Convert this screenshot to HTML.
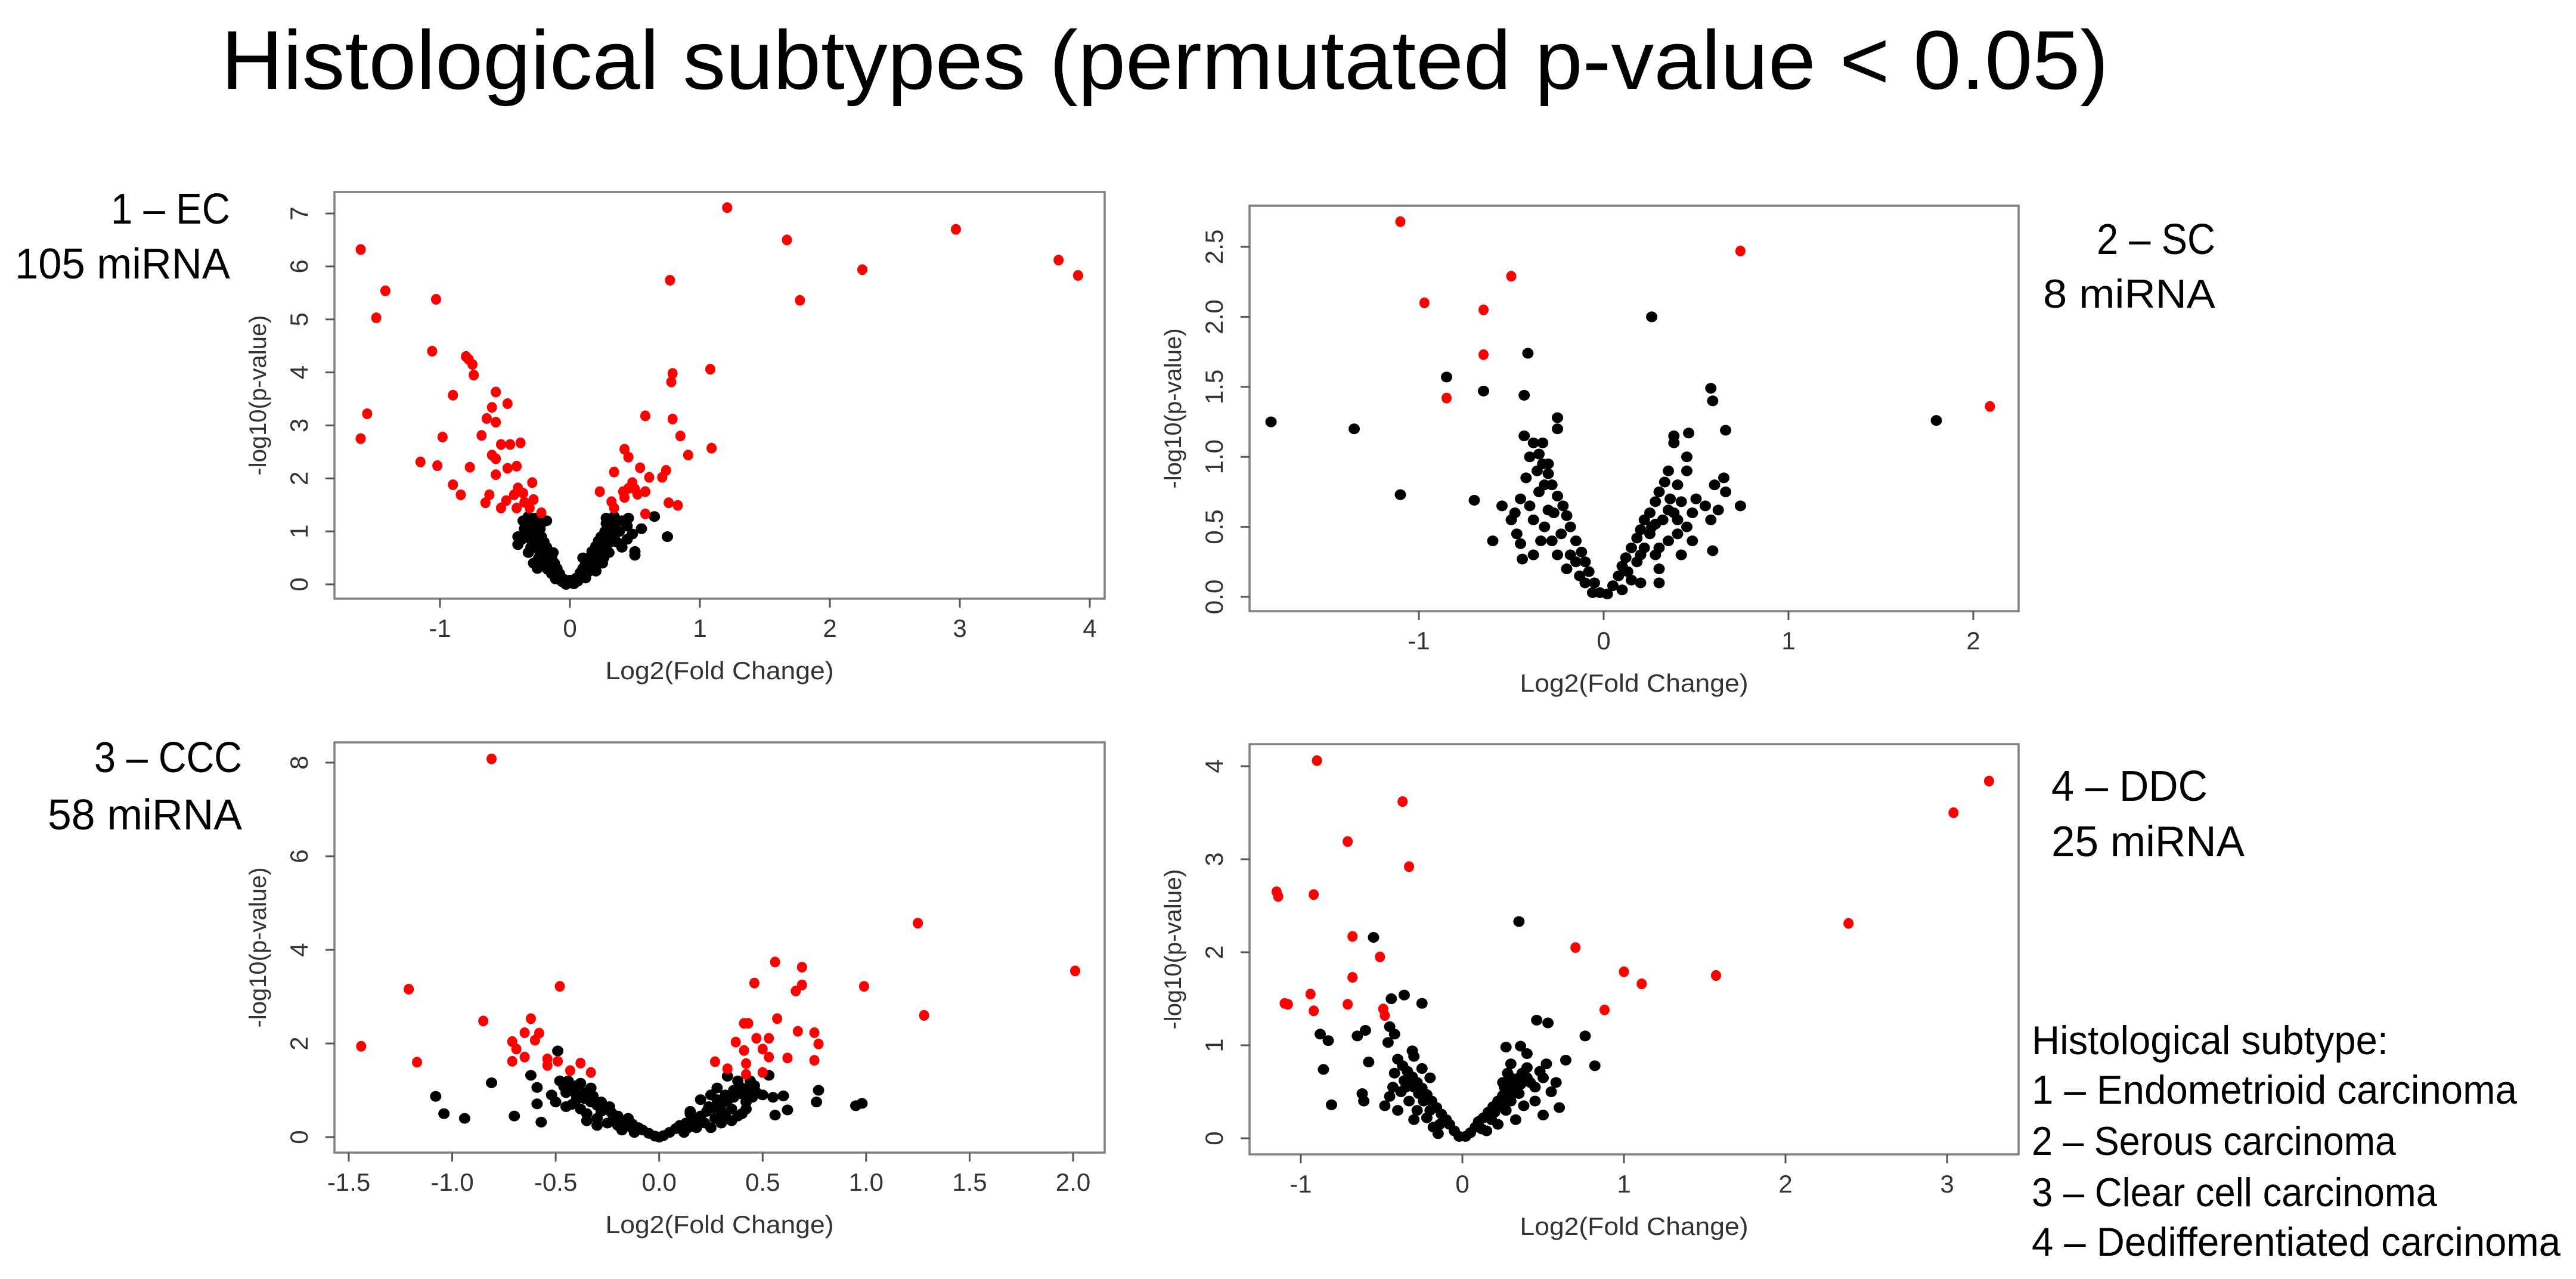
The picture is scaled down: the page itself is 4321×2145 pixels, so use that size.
<!DOCTYPE html>
<html><head><meta charset="utf-8"><title>Histological subtypes volcano plots</title>
<style>html,body{margin:0;padding:0;background:#fff;}svg{display:block;}</style></head>
<body>
<svg id="fig" xmlns="http://www.w3.org/2000/svg" width="4321" height="2145" viewBox="0 0 4321 2145" font-family="'Liberation Sans', sans-serif">
<rect width="4321" height="2145" fill="#fff"/>
<text x="371" y="149" font-size="140" textLength="3166" lengthAdjust="spacingAndGlyphs" fill="#000">Histological subtypes (permutated p-value &lt; 0.05)</text>
<text x="386" y="375" font-size="72" text-anchor="end" textLength="200" lengthAdjust="spacingAndGlyphs">1 – EC</text>
<text x="386" y="467" font-size="72" text-anchor="end" textLength="361" lengthAdjust="spacingAndGlyphs">105 miRNA</text>
<text x="3716" y="426" font-size="72" text-anchor="end" textLength="199" lengthAdjust="spacingAndGlyphs">2 – SC</text>
<text x="3716" y="516" font-size="68" text-anchor="end" textLength="289" lengthAdjust="spacingAndGlyphs">8 miRNA</text>
<text x="406" y="1295" font-size="72" text-anchor="end" textLength="248" lengthAdjust="spacingAndGlyphs">3 – CCC</text>
<text x="406" y="1391" font-size="72" text-anchor="end" textLength="326" lengthAdjust="spacingAndGlyphs">58 miRNA</text>
<text x="3441" y="1343" font-size="72" textLength="262" lengthAdjust="spacingAndGlyphs">4 – DDC</text>
<text x="3441" y="1436" font-size="72" textLength="324" lengthAdjust="spacingAndGlyphs">25 miRNA</text>
<g font-size="68">
<text x="3408" y="1768" textLength="598" lengthAdjust="spacingAndGlyphs">Histological subtype:</text>
<text x="3408" y="1851" textLength="814" lengthAdjust="spacingAndGlyphs">1 – Endometrioid carcinoma</text>
<text x="3408" y="1937" textLength="611" lengthAdjust="spacingAndGlyphs">2 – Serous carcinoma</text>
<text x="3408" y="2023" textLength="680" lengthAdjust="spacingAndGlyphs">3 – Clear cell carcinoma</text>
<text x="3408" y="2106" textLength="887" lengthAdjust="spacingAndGlyphs">4 – Dedifferentiated carcinoma</text>
</g>
</svg>
<script>
// ---- data ----
const ecXTicks = [-1,0,1,2,3,4];
const ecYTicks = [0,1,2,3,4,5,6,7];
const ecRed = [[-1.61,6.32],[1.21,7.11],[1.67,6.5],[2.97,6.7],[2.25,5.94],[3.76,6.12],[3.91,5.83],[0.77,5.74],[1.77,5.36],[-1.42,5.54],[-1.49,5.03],[-1.03,5.38],[-1.06,4.4],[-1.56,3.22],[-1.61,2.75],[-0.8,4.3],[-0.78,4.25],[-0.75,4.15],[-0.74,3.95],[1.08,4.06],[0.79,3.98],[0.78,3.82],[-0.9,3.57],[-0.57,3.63],[-0.48,3.41],[-0.6,3.34],[-0.64,3.13],[-0.57,3.06],[0.58,3.18],[0.79,3.12],[-0.98,2.78],[-0.68,2.81],[0.85,2.8],[-0.53,2.64],[-0.46,2.64],[-0.38,2.67],[1.09,2.57],[0.91,2.44],[-0.6,2.44],[-0.57,2.37],[0.42,2.55],[0.45,2.4],[-1.15,2.31],[-1.02,2.24],[-0.77,2.21],[-0.48,2.19],[-0.41,2.23],[0.54,2.2],[0.74,2.15],[0.34,2.12],[-0.57,2.07],[0.61,2.02],[0.71,2.02],[-0.9,1.88],[-0.84,1.69],[-0.29,1.92],[0.48,1.92],[0.45,1.81],[-0.4,1.82],[-0.36,1.72],[-0.43,1.69],[-0.62,1.69],[-0.65,1.54],[-0.53,1.44],[0.23,1.75],[0.41,1.75],[0.58,1.75],[0.42,1.64],[-0.49,1.58],[-0.41,1.44],[-0.31,1.44],[-0.22,1.35],[0.32,1.56],[0.34,1.44],[0.76,1.54],[0.83,1.49],[0.58,1.33],[-0.28,1.6],[-0.35,1.55],[0.5,1.8],[0.52,1.7]];
const ecBlack = [[-0.02,0.02],[0.02,0.03],[-0.05,0.1],[0.05,0.12],[-0.08,0.2],[0.08,0.22],[-0.1,0.3],[0.1,0.3],[-0.12,0.4],[0.12,0.38],[-0.14,0.5],[0.15,0.5],[-0.16,0.6],[0.17,0.62],[-0.18,0.7],[0.2,0.72],[-0.2,0.8],[0.22,0.82],[-0.22,0.9],[0.24,0.9],[-0.25,1.0],[0.27,1.0],[-0.28,1.1],[0.3,1.1],[-0.3,1.2],[0.32,1.2],[-0.32,1.28],[0.34,1.28],[-0.2,0.55],[-0.24,0.65],[-0.27,0.75],[-0.3,0.85],[-0.33,0.95],[-0.35,1.05],[0.18,0.45],[0.22,0.55],[0.26,0.65],[0.3,0.78],[0.34,0.9],[0.38,1.0],[-0.15,0.35],[0.13,0.3],[-0.06,0.05],[0.06,0.06],[-0.1,0.15],[0.1,0.18],[-0.4,0.9],[-0.4,0.75],[-0.37,0.85],[0.5,0.62],[0.5,0.55],[0.45,1.25],[0.55,1.05],[0.65,1.28],[0.75,0.9],[-0.28,0.4],[-0.25,0.3],[0.2,0.25],[0.25,0.4],[0.4,0.7],[0.44,0.85],[-0.18,1.2],[-0.22,1.15],[0.28,1.25],[0.1,0.5],[-0.13,0.6],[0,0.08],[-0.03,0.0],[0.03,0.01],[-0.27,1.25],[-0.25,1.15],[-0.23,1.05],[-0.26,0.9],[-0.28,0.8],[-0.3,0.7],[-0.32,0.6],[-0.24,0.5],[-0.2,0.4],[-0.17,0.28],[-0.14,0.2],[-0.11,0.1],[0.12,0.12],[0.15,0.25],[0.17,0.35],[0.2,0.6],[0.24,0.7],[0.27,0.85],[0.28,1.15],[0.32,1.0],[0.34,1.1],[0.36,0.8],[0.3,0.6],[0.26,0.5],[0.4,1.2],[0.44,1.1],[0.48,0.95],[-0.36,1.2],[-0.34,1.15]];

const scXTicks = [-1,0,1,2];
const scYTicks = [0,0.5,1,1.5,2,2.5];
const scRed = [[-1.1,2.68],[0.74,2.47],[-0.5,2.29],[-0.97,2.1],[-0.65,2.05],[-0.65,1.73],[-0.85,1.42],[2.09,1.36]];
const scBlack = [[0.26,2.0],[-0.41,1.74],[-0.85,1.57],[-0.65,1.47],[-0.43,1.44],[0.58,1.49],[0.59,1.4],[-1.35,1.2],[-1.1,0.73],[1.8,1.26],[-1.8,1.25],[0.66,1.19],[0.74,0.65],[-0.7,0.69],[-0.6,0.4],[-0.44,0.27],[0.59,0.33],[-0.02,0.03],[0.02,0.02],[-0.05,0.1],[0.05,0.08],[-0.08,0.18],[0.08,0.15],[-0.1,0.25],[0.1,0.22],[-0.12,0.32],[0.12,0.28],[-0.15,0.4],[0.15,0.35],[-0.18,0.5],[0.18,0.42],[-0.2,0.58],[0.2,0.48],[-0.22,0.65],[0.22,0.55],[-0.25,0.72],[0.25,0.6],[-0.28,0.8],[0.28,0.68],[-0.3,0.88],[0.3,0.75],[-0.33,0.95],[0.33,0.82],[-0.35,1.02],[-0.38,1.1],[-0.4,1.0],[-0.42,0.85],[-0.45,0.7],[-0.48,0.6],[-0.5,0.55],[-0.55,0.65],[-0.47,0.45],[-0.38,0.55],[-0.32,0.5],[-0.28,0.4],[-0.25,0.3],[-0.2,0.2],[-0.3,0.62],[-0.35,0.75],[-0.43,1.15],[-0.33,1.1],[-0.25,1.28],[-0.25,1.2],[-0.38,0.3],[-0.45,0.38],[0.35,0.9],[0.38,1.1],[0.38,1.15],[0.45,1.0],[0.45,0.9],[0.46,1.17],[0.4,0.45],[0.45,0.5],[0.48,0.4],[0.42,0.3],[0.3,0.2],[0.35,0.4],[0.5,0.7],[0.55,0.65],[0.58,0.55],[0.6,0.8],[0.62,0.62],[0.66,0.75],[0.65,0.85],[0.2,0.3],[0.25,0.45],[0.28,0.52],[0.3,0.35],[0.15,0.12],[0.35,0.62],[-0.15,0.25],[-0.1,0.1],[0.4,0.55],[0.48,0.6],[0.2,0.1],[0.3,0.1],[-0.3,0.95],[-0.32,0.8],[-0.36,0.9],[-0.27,0.6],[-0.23,0.45],[-0.18,0.3],[-0.13,0.15],[-0.4,0.65],[-0.34,0.4],[0.13,0.18],[0.18,0.25],[0.22,0.35],[0.26,0.5],[0.32,0.55],[0.36,0.7],[0.4,0.8],[0.28,0.3],[0.38,0.6],[0.42,0.68],[0.1,0.05],[-0.06,0.03]];

const cccXTicks = [-1.5,-1.0,-0.5,0.0,0.5,1.0,1.5,2.0];
const cccYTicks = [0,2,4,6,8];
const cccRed = [[-0.81,8.08],[1.25,4.57],[2.01,3.55],[0.56,3.74],[0.69,3.63],[0.69,3.25],[0.66,3.12],[0.46,3.29],[0.99,3.22],[-0.48,3.22],[-1.21,3.16],[1.28,2.6],[-0.85,2.48],[-0.62,2.53],[0.57,2.53],[0.41,2.43],[0.43,2.43],[-0.65,2.23],[-0.58,2.22],[0.67,2.26],[0.75,2.23],[-0.71,2.04],[-0.6,2.07],[0.37,2.03],[0.47,2.11],[0.53,2.11],[0.77,1.99],[-1.44,1.94],[-0.69,1.88],[0.41,1.85],[0.5,1.88],[-0.65,1.71],[-0.71,1.62],[0.53,1.71],[0.62,1.69],[0.75,1.64],[-1.17,1.6],[-0.54,1.67],[-0.49,1.62],[0.27,1.61],[0.42,1.57],[-0.54,1.53],[-0.38,1.58],[0.33,1.46],[-0.43,1.42],[-0.33,1.38],[0.42,1.34],[0.5,1.38]];
const cccBlack = [[-0.49,1.84],[-0.81,1.16],[-1.08,0.87],[-1.04,0.5],[-0.94,0.4],[-0.7,0.45],[-0.57,0.32],[0.77,1.0],[0.76,0.75],[0.95,0.67],[0.98,0.72],[0.62,0.58],[0.56,0.47],[-0.59,1.06],[-0.62,1.32],[-0.59,0.71],[0.53,1.32],[0.33,1.3],[0.46,0.93],[-0.02,0.02],[0.02,0.03],[-0.05,0.08],[0.05,0.1],[-0.08,0.15],[0.08,0.18],[-0.1,0.2],[0.1,0.25],[-0.13,0.28],[0.13,0.3],[-0.16,0.35],[0.16,0.38],[-0.2,0.45],[0.2,0.45],[-0.23,0.52],[0.23,0.55],[-0.26,0.6],[0.26,0.62],[-0.3,0.68],[0.3,0.7],[-0.33,0.75],[0.33,0.78],[-0.36,0.82],[0.36,0.85],[-0.4,0.9],[0.4,0.92],[-0.43,1.0],[0.43,1.0],[-0.46,1.08],[0.46,1.1],[-0.48,1.2],[-0.45,0.95],[-0.42,0.7],[-0.38,0.6],[-0.35,0.5],[-0.3,0.4],[-0.25,0.3],[-0.2,0.25],[-0.18,0.15],[-0.35,0.35],[-0.4,0.8],[-0.52,0.9],[-0.5,0.75],[-0.45,0.65],[-0.28,0.55],[-0.3,0.25],[0.18,0.2],[0.22,0.3],[0.27,0.4],[0.3,0.55],[0.35,0.6],[0.38,0.45],[0.42,0.75],[0.45,0.85],[0.5,0.9],[0.47,0.95],[0.35,0.35],[0.3,0.3],[0.25,0.2],[0.4,0.5],[0.2,0.8],[0.25,0.9],[0.15,0.55],[0.12,0.1],[-0.12,0.1],[0.28,1.05],[0.38,1.2],[-0.38,1.15],[-0.33,1.05],[0.0,0.0],[-0.15,0.4],[0.15,0.5],[0.6,0.88],[0.55,0.85],[-0.44,1.2],[-0.4,1.1],[-0.36,0.95],[-0.32,0.88],[-0.28,0.75],[-0.24,0.65],[-0.22,0.4],[-0.14,0.22],[0.14,0.2],[0.2,0.35],[0.24,0.65],[0.28,0.8],[0.32,0.9],[0.36,1.0],[0.4,1.05],[0.44,1.2],[0.32,0.45],[0.42,0.6]];

const ddcXTicks = [-1,0,1,2,3];
const ddcYTicks = [0,1,2,3,4];
const ddcRed = [[-0.9,4.06],[3.26,3.84],[-0.37,3.62],[3.04,3.5],[-0.71,3.19],[-0.33,2.92],[-0.92,2.62],[-1.15,2.65],[-1.14,2.6],[2.39,2.31],[-0.68,2.17],[0.7,2.05],[-0.51,1.95],[-0.68,1.73],[1.0,1.79],[1.11,1.66],[1.57,1.75],[-0.94,1.55],[-1.08,1.44],[-0.71,1.44],[-0.92,1.37],[-0.49,1.39],[-0.48,1.32],[0.88,1.38],[-1.1,1.45]];
const ddcBlack = [[0.35,2.33],[-0.55,2.16],[-0.44,1.5],[-0.36,1.54],[-0.25,1.45],[0.46,1.27],[0.53,1.24],[0.76,1.1],[-0.88,1.12],[-0.83,1.05],[-0.65,1.1],[-0.6,1.16],[-0.45,1.2],[-0.42,1.12],[0.82,0.78],[-0.86,0.74],[-0.81,0.36],[-0.58,0.82],[-0.62,0.48],[-0.61,0.4],[0.64,0.84],[0.6,0.33],[0.27,0.98],[0.36,0.99],[0.4,0.91],[-0.46,1.03],[-0.31,0.94],[-0.02,0.02],[0.02,0.02],[-0.05,0.08],[0.05,0.06],[-0.08,0.15],[0.08,0.12],[-0.1,0.2],[0.1,0.18],[-0.13,0.26],[0.13,0.22],[-0.16,0.33],[0.16,0.28],[-0.19,0.4],[0.19,0.34],[-0.22,0.47],[0.22,0.4],[-0.25,0.54],[0.25,0.46],[-0.28,0.6],[0.28,0.52],[-0.31,0.66],[0.31,0.58],[-0.34,0.72],[0.34,0.64],[-0.37,0.78],[0.37,0.7],[-0.4,0.85],[0.4,0.76],[-0.43,0.55],[-0.45,0.45],[-0.38,0.5],[-0.33,0.4],[-0.28,0.3],[-0.22,0.22],[-0.3,0.2],[-0.4,0.3],[-0.48,0.35],[-0.2,0.65],[-0.25,0.75],[-0.3,0.88],[-0.35,0.55],[-0.18,0.12],[0.22,0.15],[0.27,0.3],[0.3,0.4],[0.33,0.2],[0.35,0.48],[0.42,0.6],[0.45,0.55],[0.48,0.72],[0.5,0.65],[0.52,0.8],[0.55,0.5],[0.38,0.35],[0.28,0.7],[0.3,0.8],[0.25,0.6],[0.45,0.4],[0.5,0.25],[0.58,0.6],[-0.15,0.05],[0.15,0.08],[-0.2,0.3],[-0.24,0.4],[-0.27,0.48],[-0.3,0.55],[-0.33,0.65],[-0.36,0.62],[-0.42,0.7],[-0.14,0.15],[0.12,0.1],[0.18,0.2],[0.2,0.28],[0.24,0.35],[0.27,0.42],[0.32,0.5],[0.36,0.58],[0.4,0.65],[0.26,0.55],[0.3,0.65]];

// ---- rendering ----
const NS = 'http://www.w3.org/2000/svg';
const svg = document.getElementById('fig');
function mk(tag, attrs, parent){ const e=document.createElementNS(NS,tag); for(const k in attrs) e.setAttribute(k,attrs[k]); (parent||svg).appendChild(e); return e; }

const panels = [
  {id:'ec', box:[561,322,1853,1004], xRef:[0,956,1,1174], yRef:[0,980,7,358], xt:ecXTicks, yt:ecYTicks, xd:0, yd:0, red:ecRed, black:ecBlack},
  {id:'sc', box:[2096,345,3386,1025], xRef:[0,2690,2,3310], yRef:[0,1001,2.5,414], xt:scXTicks, yt:scYTicks, xd:0, yd:1, red:scRed, black:scBlack},
  {id:'ccc', box:[561,1245,1853,1933], xRef:[-1.5,585,2,1800], yRef:[0,1907,8,1279], xt:cccXTicks, yt:cccYTicks, xd:1, yd:0, red:cccRed, black:cccBlack},
  {id:'ddc', box:[2096,1248,3386,1936], xRef:[0,2453,3,3266], yRef:[0,1909,4,1285], xt:ddcXTicks, yt:ddcYTicks, xd:0, yd:0, red:ddcRed, black:ddcBlack}
];

panels.forEach(p => {
  const [L,T,R,B] = p.box;
  const sx = v => p.xRef[1] + (v - p.xRef[0]) * (p.xRef[3]-p.xRef[1])/(p.xRef[2]-p.xRef[0]);
  const sy = v => p.yRef[1] + (v - p.yRef[0]) * (p.yRef[3]-p.yRef[1])/(p.yRef[2]-p.yRef[0]);
  const g = mk('g', {});
  
  
  const box = mk('rect', {x:L, y:T, width:R-L, height:B-T, fill:'none', stroke:'#808080', 'stroke-width':3.5}, g);
  
  
  p.xt.forEach(v => {
    const x = sx(v);
    const t = mk('line', {x1:x, y1:B, x2:x, y2:B+15, stroke:'#555', 'stroke-width':3}, g);
    
    
    const lb = mk('text', {x:x, y:B+64, 'font-size':42, 'text-anchor':'middle', fill:'#333'}, g);
    
    
    lb.textContent = v.toFixed(p.xd);
  });
  p.yt.forEach(v => {
    const y = sy(v);
    const t = mk('line', {x1:L, y1:y, x2:L-15, y2:y, stroke:'#555', 'stroke-width':3}, g);
    
    
    const lb = mk('text', {x:L-45, y:y, 'font-size':42, 'text-anchor':'middle', fill:'#333', transform:`rotate(-90 ${L-45} ${y})`}, g);
    
    
    lb.textContent = v.toFixed(p.yd);
  });
  const cx = (L+R)/2, cy = (T+B)/2;
  const xt = mk('text', {x:cx, y:B+135, 'font-size':42, 'text-anchor':'middle', fill:'#333', textLength:383, lengthAdjust:'spacingAndGlyphs'}, g);
  
  
  xt.textContent = 'Log2(Fold Change)';
  const yx = L-115;
  const yt = mk('text', {x:yx, y:cy, 'font-size':40, 'text-anchor':'middle', fill:'#333', transform:`rotate(-90 ${yx} ${cy})`}, g);
  
  
  yt.textContent = '-log10(p-value)';
  p.black.forEach(d => {
    const c = mk('ellipse', {cx:sx(d[0]), cy:sy(d[1]), rx:9.5, ry:9, fill:'#000'}, g);
    
    
  });
  p.red.forEach(d => {
    const c = mk('ellipse', {cx:sx(d[0]), cy:sy(d[1]), rx:8.5, ry:9, fill:'#ff0000'}, g);
    
    
  });
});
</script>
</body></html>
